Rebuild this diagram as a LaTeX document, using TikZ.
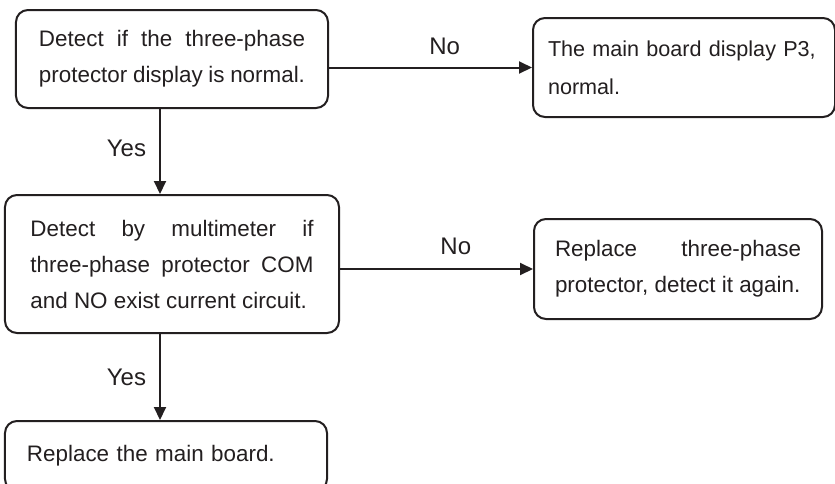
\documentclass[tikz,border=0pt]{standalone}
\usepackage{xcolor}
\usepackage{fontspec}
\setmainfont{Liberation Sans}
\usepackage{tikz}
\usetikzlibrary{arrows.meta,positioning,calc}
\definecolor{mInk}{RGB}{35,31,32}
\tikzset{
flowbox/.style={rectangle,rounded corners=6pt,draw=mInk,line width=1pt,fill=white,inner sep=0pt,align=justify,text=mInk,font=\fontsize{11.2}{18}\selectfont},
lbl/.style={inner sep=0pt,text=mInk,font=\fontsize{12}{14}\selectfont},
arrow/.style={-{Triangle[length=6.5pt,width=6pt]},line width=1pt,draw=mInk}
}

\begin{document}
\begin{tikzpicture}
\useasboundingbox (-86pt,29.5pt) rectangle (331.5pt,-212pt);
\node[flowbox,minimum width=156pt,minimum height=49pt,text width=133pt] (detect) {Detect if the three-phase\linebreak protector display is normal.};
\node[flowbox,right=101.5pt of detect,yshift=-4.25pt,minimum width=151pt,minimum height=49.5pt,text width=136pt,align=left,font=\fontsize{10.8}{19}\selectfont] (board) {The main board display P3,\\normal.};
\node[flowbox,below=42.5pt of detect,minimum width=167pt,minimum height=69pt,text width=141.5pt] (multi) {Detect by multimeter if\linebreak three-phase protector COM\linebreak and NO exist current circuit.};
\node[flowbox,right=96.5pt of multi,yshift=-2.5pt,minimum width=144pt,minimum height=50pt,text width=123pt] (replace) {Replace three-phase\linebreak protector, detect it again.};
\node[flowbox,below=43pt of multi.south west,anchor=north west,minimum width=161pt,minimum height=35pt,text width=139pt,align=left] (mainboard) {Replace the main board.};
\coordinate (spine) at (-6pt,0);
\draw[arrow] (detect.east |- board.west) -- node[lbl,above=6pt,pos=.57] {No} (board.west);
\draw[arrow] (detect.south -| spine) -- node[lbl,left=6.5pt,pos=.46] {Yes} (multi.north -| spine);
\draw[arrow] (multi.east |- replace.west) -- node[lbl,above=6.5pt,pos=.6] {No} (replace.west);
\draw[arrow] (multi.south -| spine) -- node[lbl,left=6.5pt,pos=.5] {Yes} (mainboard.north -| spine);
\end{tikzpicture}
\end{document}
